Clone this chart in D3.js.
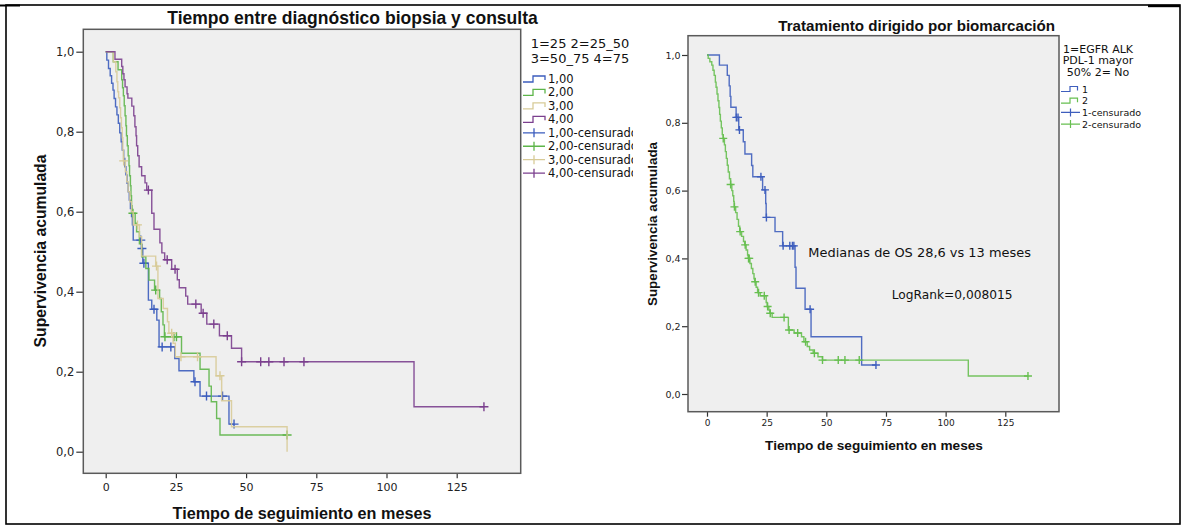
<!DOCTYPE html>
<html><head><meta charset="utf-8">
<script src="https://cdn.jsdelivr.net/npm/d3@7"></script>
<style>body{margin:0;background:#fff} svg{display:block}</style>
</head><body>
<svg id="c" width="1184" height="525"></svg>
<script>
// ---------------- DATA ----------------
const xTicks = [0, 25, 50, 75, 100, 125];
const yTicks = [0, 0.2, 0.4, 0.6, 0.8, 1.0];

// Left chart: "Tiempo entre diagnóstico biopsia y consulta"
const leftTitle = "Tiempo entre diagnóstico biopsia y consulta";
const leftLegendTitle = ["1=25 2=25_50", "3=50_75 4=75"];
const leftGroups = ["1,00", "2,00", "3,00", "4,00"];
const leftCensLabels = ["1,00-censurado", "2,00-censurado", "3,00-censurado", "4,00-censurado"];

const g1Steps = [[0,1],[0.4,0.979],[1.0,0.958],[1.6,0.94],[2.1,0.921],[2.6,0.904],[3.0,0.883],[3.5,0.862],[4.0,0.842],[4.5,0.821],[5.0,0.797],[5.5,0.775],[5.9,0.754],[6.4,0.733],[6.8,0.7125],[7.2,0.692],[7.6,0.671],[8.0,0.65],[8.4,0.629],[8.8,0.608],[9.2,0.588],[9.5,0.567],[9.8,0.529],[12.7,0.508],[13.2,0.471],[15.2,0.379],[16.4,0.356],[18.2,0.329],[19.0,0.262],[24.6,0.233],[26.1,0.2025],[31.4,0.175],[33.6,0.139],[43.9,0.069]];
const g1Cens = [[12.5,0.529],[12.9,0.508],[13.6,0.471],[17.2,0.356],[20.1,0.262],[23.2,0.262],[31.8,0.175],[35.9,0.139],[41.6,0.139],[45.7,0.069]];

const g2Steps = [[0,1],[2.7,0.975],[4.4,0.955],[5.7,0.93],[6.0,0.91],[6.3,0.89],[6.6,0.865],[6.9,0.84],[7.2,0.815],[7.4,0.79],[7.7,0.765],[8.0,0.74],[8.3,0.715],[8.5,0.69],[8.8,0.665],[9.0,0.64],[9.2,0.615],[9.4,0.596],[10.5,0.571],[11.0,0.55],[12.0,0.52],[12.8,0.4875],[14.3,0.458],[15.4,0.429],[17.4,0.404],[19.2,0.383],[19.8,0.35],[20.4,0.317],[20.9,0.2875],[27.0,0.246],[33.6,0.206],[36.8,0.164],[37.6,0.125],[39.5,0.083],[40.7,0.0417]];
const g2Cens = [[9.7,0.596],[17.8,0.404],[21.1,0.2875],[24.3,0.2875],[25.2,0.2875],[64.6,0.0417]];

const g3Steps = [[0,1],[2.7,0.975],[3.6,0.95],[4.0,0.925],[4.3,0.9],[4.6,0.885],[5.0,0.86],[5.3,0.835],[5.6,0.81],[5.9,0.785],[6.1,0.755],[6.3,0.727],[7.0,0.70],[7.5,0.675],[8.0,0.65],[8.6,0.625],[9.2,0.60],[9.8,0.567],[12.0,0.5375],[12.8,0.489],[17.8,0.464],[18.6,0.383],[20.5,0.358],[22.0,0.325],[22.5,0.296],[24.0,0.271],[24.8,0.2375],[39.3,0.19],[41.3,0.1275],[44.8,0.0625],[64.6,0]];
const g3Cens = [[6.4,0.727],[11.3,0.567],[18.1,0.464],[23.5,0.296],[26.8,0.2375],[32.7,0.2375],[40.7,0.19]];

const g4Steps = [[0,1],[3.3,0.981],[5.7,0.963],[6.1,0.945],[6.5,0.93],[6.9,0.912],[7.6,0.895],[7.9,0.884],[9.3,0.864],[10.0,0.84],[10.4,0.8125],[10.8,0.79],[11.0,0.765],[11.4,0.74],[11.9,0.7125],[12.8,0.69],[14.0,0.672],[14.6,0.654],[16.4,0.596],[17.2,0.556],[19.3,0.522],[20.0,0.497],[21.0,0.48],[23.5,0.456],[25.5,0.43],[26.2,0.41],[28.5,0.389],[29.2,0.369],[34.0,0.346],[36.0,0.319],[40.5,0.29],[44.8,0.2585],[48.4,0.225],[109.8,0.1125]];
const g4Cens = [[15.2,0.654],[21.9,0.48],[24.7,0.456],[32.1,0.369],[34.7,0.346],[38.5,0.319],[43.3,0.29],[48.4,0.225],[55.2,0.225],[58.1,0.225],[63.5,0.225],[70.6,0.225],[134.7,0.1125]];

// Right chart: "Tratamiento dirigido por biomarcación"
const rightTitle = "Tratamiento dirigido por biomarcación";
const rightLegendTitle = ["1=EGFR ALK", "PDL-1 mayor", "50% 2= No"];
const rightGroups = ["1", "2"];
const rightCensLabels = ["1-censurado", "2-censurado"];
const annotMedian = "Medianas de OS 28,6 vs 13 meses";
const annotLogRank = "LogRank=0,008015";

const r1Steps = [[0,1],[5.2,0.97],[8.5,0.94],[9.3,0.909],[9.7,0.878],[10.0,0.846],[12.2,0.816],[13.3,0.779],[15.2,0.744],[15.9,0.708],[18.7,0.674],[19.2,0.641],[23.3,0.602],[24.6,0.562],[24.8,0.521],[28.5,0.479],[31.7,0.437],[36.9,0.374],[37.3,0.312],[41.1,0.25],[43.6,0.169],[64.8,0.0855]];
const r1Cens = [[12.3,0.816],[13.0,0.816],[13.6,0.779],[22.6,0.641],[24.3,0.602],[24.9,0.521],[31.9,0.437],[34.7,0.437],[35.8,0.437],[36.4,0.437],[43.2,0.25],[70.8,0.0855]];

const r2Steps = [[0,1],[0.5,0.99],[1.2,0.98],[2.0,0.97],[2.5,0.955],[3.0,0.94],[3.5,0.92],[3.8,0.905],[4.2,0.885],[4.6,0.865],[5.0,0.845],[5.3,0.825],[5.6,0.805],[6.0,0.785],[6.4,0.765],[6.8,0.754],[7.3,0.735],[7.7,0.715],[8.1,0.695],[8.5,0.675],[8.9,0.655],[9.4,0.635],[9.9,0.618],[10.4,0.6],[10.8,0.585],[11.2,0.568],[11.4,0.552],[12.0,0.535],[12.6,0.515],[13.2,0.495],[13.7,0.479],[14.5,0.465],[15.3,0.45],[15.8,0.44],[16.4,0.425],[17.0,0.41],[17.3,0.4],[18.0,0.385],[18.6,0.37],[19.2,0.355],[19.7,0.34],[20.0,0.331],[20.6,0.315],[21.2,0.299],[22.3,0.29],[24.8,0.27],[25.2,0.258],[25.9,0.248],[26.3,0.238],[27.3,0.226],[34.1,0.189],[36.5,0.18],[39.6,0.169],[40.6,0.154],[42.0,0.14],[43.0,0.13],[44.5,0.12],[46.5,0.11],[48.4,0.1],[109.5,0.053]];
const r2Cens = [[6.8,0.754],[9.9,0.618],[11.5,0.552],[13.9,0.479],[16.0,0.44],[17.4,0.4],[17.7,0.4],[20.2,0.331],[21.6,0.299],[24.0,0.29],[25.4,0.258],[26.5,0.238],[32.3,0.226],[34.4,0.189],[38.0,0.18],[41.3,0.154],[45.0,0.12],[48.4,0.1],[55.0,0.1],[57.8,0.1],[63.8,0.1],[134.5,0.053]];

const leftColors = ["#3b5cbd", "#5db549", "#d8cb98", "#7b3f8e"];
const rightColors = ["#3e5ebd", "#67bf50"];

// ---------------- DRAW ----------------
const svg = d3.select("#c");
const FONT = "'DejaVu Sans', sans-serif";
const BFONT = "'Liberation Sans', Arial, sans-serif";
const fmt = d => d3.format(".1f")(d).replace(".", ",");

function fitText(sel, w) {
  const n = sel.node();
  const cur = n.getComputedTextLength();
  const fs = parseFloat(sel.attr("font-size"));
  sel.attr("font-size", fs * w / cur);
}

// outer frame
svg.append("rect").attr("x", 6).attr("y", 5).attr("width", 1174).attr("height", 519)
  .attr("fill", "none").attr("stroke", "#000").attr("stroke-width", 1.6);
svg.append("line").attr("x1", 0).attr("x2", 20).attr("y1", 5.5).attr("y2", 5.5).attr("stroke", "#000").attr("stroke-width", 2);
svg.append("line").attr("x1", 1148).attr("x2", 1180).attr("y1", 6).attr("y2", 6).attr("stroke", "#000").attr("stroke-width", 2.4);

function stepPath(x, y, steps, cens) {
  const endT = Math.max(steps[steps.length - 1][0], cens.length ? d3.max(cens, d => d[0]) : 0);
  let p = `M${x(steps[0][0])},${y(steps[0][1])}`;
  for (let i = 1; i < steps.length; i++) {
    p += `H${x(steps[i][0])}V${y(steps[i][1])}`;
  }
  p += `H${x(endT)}`;
  return p;
}

function panel(o) {
  const g = svg.append("g");
  g.append("rect").attr("x", o.pl).attr("y", o.pt).attr("width", o.pr - o.pl).attr("height", o.pb - o.pt)
    .attr("fill", "#efefef");
  const x = d3.scaleLinear().domain([0, 125]).range(o.xr);
  const y = d3.scaleLinear().domain([0, 1]).range(o.yr);

  const ya = g.append("g").attr("transform", `translate(${o.pl},0)`)
    .call(d3.axisLeft(y).tickValues(yTicks).tickFormat(fmt).tickSize(o.yTick).tickPadding(o.yPad));
  ya.select(".domain").remove();
  ya.selectAll("line").attr("stroke", "#333").attr("stroke-width", 1.2);
  ya.selectAll("text").attr("font-family", FONT).attr("font-size", o.yFs).attr("fill", "#222");

  const xa = g.append("g").attr("transform", `translate(0,${o.pb})`)
    .call(d3.axisBottom(x).tickValues(xTicks).tickFormat(d3.format("d")).tickSize(o.xTick).tickPadding(o.xPad));
  xa.select(".domain").remove();
  xa.selectAll("line").attr("stroke", "#333").attr("stroke-width", 1.2);
  xa.selectAll("text").attr("font-family", FONT).attr("font-size", o.xFs).attr("fill", "#222");

  o.series.forEach((s, i) => {
    g.append("path").attr("d", stepPath(x, y, s.steps, s.cens))
      .attr("fill", "none").attr("stroke", s.color).attr("stroke-width", 1.4)
      .attr("stroke-opacity", 0.9);
    g.selectAll(null).data(s.cens).enter().append("path")
      .attr("d", d => {
        const cx = x(d[0]), cy = y(d[1]), m = o.mark;
        return `M${cx - m},${cy}H${cx + m}M${cx},${cy - m}V${cy + m}`;
      })
      .attr("fill", "none").attr("stroke", s.color).attr("stroke-width", 1.4);
  });

  // plot border
  g.append("rect").attr("x", o.pl).attr("y", o.pt).attr("width", o.pr - o.pl).attr("height", o.pb - o.pt)
    .attr("fill", "none").attr("stroke", "#5a5a5a").attr("stroke-width", 1.5);

  // titles
  const t = g.append("text").attr("x", o.title.x).attr("y", o.title.y).attr("text-anchor", "middle")
    .attr("font-family", BFONT).attr("font-weight", "bold").attr("font-size", o.title.fs).attr("fill", "#111")
    .text(o.title.text);
  fitText(t, o.title.w);
  const xt = g.append("text").attr("x", o.xTitle.x).attr("y", o.xTitle.y).attr("text-anchor", "middle")
    .attr("font-family", BFONT).attr("font-weight", "bold").attr("font-size", o.xTitle.fs).attr("fill", "#111")
    .text("Tiempo de seguimiento en meses");
  fitText(xt, o.xTitle.w);
  const yt = g.append("text").attr("transform", `translate(${o.yTitle.x},${o.yTitle.y}) rotate(-90)`)
    .attr("text-anchor", "middle")
    .attr("font-family", BFONT).attr("font-weight", "bold").attr("font-size", o.yTitle.fs).attr("fill", "#111")
    .text("Supervivencia acumulada");
  fitText(yt, o.yTitle.w);
  return {g, x, y};
}

// LEFT
panel({
  pl: 83.3, pr: 520.7, pt: 29.3, pb: 473.3,
  xr: [105.7, 456.7], yr: [451.7, 51.7],
  yTick: 7, yPad: 2, yFs: 11.5, xTick: 5, xPad: 5, xFs: 11,
  mark: 4.5,
  series: [
    {steps: g1Steps, cens: g1Cens, color: leftColors[0]},
    {steps: g2Steps, cens: g2Cens, color: leftColors[1]},
    {steps: g3Steps, cens: g3Cens, color: leftColors[2]},
    {steps: g4Steps, cens: g4Cens, color: leftColors[3]}
  ],
  title: {text: leftTitle, x: 352.5, y: 23.5, fs: 16, w: 371},
  xTitle: {x: 302, y: 518.5, fs: 16, w: 259},
  yTitle: {x: 46, y: 251, fs: 16, w: 193}
});

// RIGHT
const R = panel({
  pl: 688, pr: 1059, pt: 35.7, pb: 411.7,
  xr: [707, 1005.3], yr: [394, 55],
  yTick: 6, yPad: 1.5, yFs: 9.5, xTick: 5, xPad: 2.5, xFs: 9,
  mark: 4,
  series: [
    {steps: r1Steps, cens: r1Cens, color: rightColors[0]},
    {steps: r2Steps, cens: r2Cens, color: rightColors[1]}
  ],
  title: {text: rightTitle, x: 916.7, y: 30.5, fs: 14.5, w: 277},
  xTitle: {x: 874, y: 450, fs: 14, w: 218},
  yTitle: {x: 657, y: 224, fs: 13.5, w: 164}
});

const a1 = svg.append("text").attr("x", 808.3).attr("y", 252.7).attr("dominant-baseline", "central")
  .attr("font-family", FONT).attr("font-size", 13).attr("fill", "#111").text(annotMedian);
fitText(a1, 223);
const a2 = svg.append("text").attr("x", 891.7).attr("y", 295).attr("dominant-baseline", "central")
  .attr("font-family", FONT).attr("font-size", 13).attr("fill", "#111").text(annotLogRank);
fitText(a2, 121);

// LEFT LEGEND
svg.append("clipPath").attr("id", "lclip").append("rect").attr("x", 515).attr("y", 30).attr("width", 118).attr("height", 160);
const LL = svg.append("g").attr("clip-path", "url(#lclip)");
leftLegendTitle.forEach((t, i) => {
  LL.append("text").attr("x", 580).attr("y", 43.5 + i * 15).attr("text-anchor", "middle").attr("dominant-baseline", "central")
    .attr("font-family", FONT).attr("font-size", 13).attr("fill", "#111").text(t);
});
const leftItems = leftGroups.map((l, i) => ({label: l, color: leftColors[i], type: "step"}))
  .concat(leftCensLabels.map((l, i) => ({label: l, color: leftColors[i], type: "cens"})));
leftItems.forEach((it, i) => {
  const cy = 79 + i * 13.45;
  const p = it.type === "step"
    ? `M523,${cy + 3}H533V${cy - 3}H545V${cy + 1}`
    : `M523,${cy}H545M534,${cy - 4.5}V${cy + 4.5}`;
  LL.append("path").attr("d", p).attr("fill", "none").attr("stroke", it.color).attr("stroke-width", 1.3);
  LL.append("text").attr("x", 548).attr("y", cy).attr("dominant-baseline", "central")
    .attr("font-family", FONT).attr("font-size", 11.5).attr("fill", "#111").text(it.label);
});

// RIGHT LEGEND
rightLegendTitle.forEach((t, i) => {
  svg.append("text").attr("x", 1098).attr("y", [49, 60.5, 72][i]).attr("text-anchor", "middle").attr("dominant-baseline", "central")
    .attr("font-family", FONT).attr("font-size", 11).attr("fill", "#111").text(t);
});
const rightItems = rightGroups.map((l, i) => ({label: l, color: rightColors[i], type: "step"}))
  .concat(rightCensLabels.map((l, i) => ({label: l, color: rightColors[i], type: "cens"})));
rightItems.forEach((it, i) => {
  const cy = 89 + i * 11.7;
  const p = it.type === "step"
    ? `M1061,${cy + 2.5}H1070V${cy - 2.5}H1077.5V${cy + 1.5}`
    : `M1061,${cy}H1080M1070.5,${cy - 4}V${cy + 4}`;
  svg.append("path").attr("d", p).attr("fill", "none").attr("stroke", it.color).attr("stroke-width", 1.2);
  svg.append("text").attr("x", 1082).attr("y", cy).attr("dominant-baseline", "central")
    .attr("font-family", FONT).attr("font-size", 9.5).attr("fill", "#111").text(it.label);
});
</script>
</body></html>
